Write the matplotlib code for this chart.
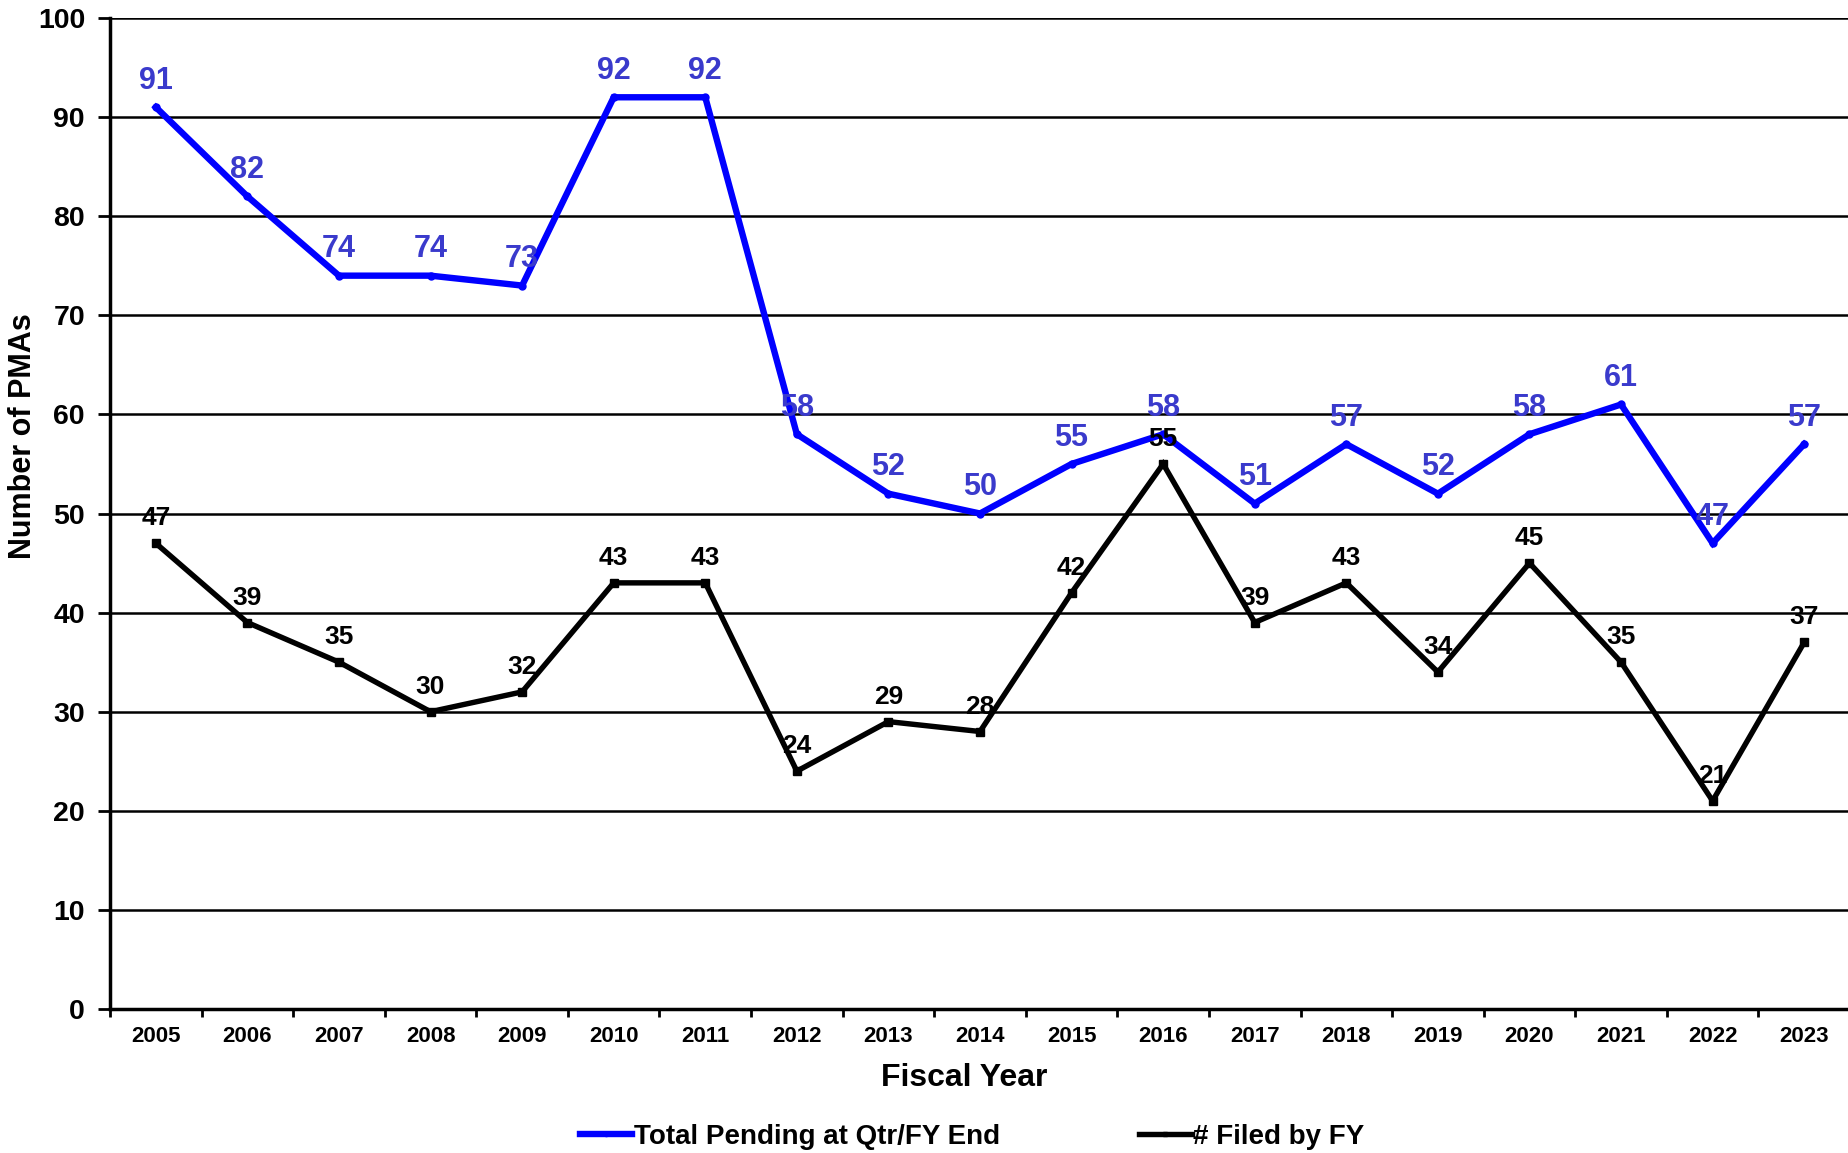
import matplotlib
matplotlib.use("Agg")
import matplotlib.pyplot as plt
from matplotlib.lines import Line2D

years = ["2005", "2006", "2007", "2008", "2009", "2010", "2011", "2012", "2013", "2014",
         "2015", "2016", "2017", "2018", "2019", "2020", "2021", "2022", "2023"]
total_pending = [91, 82, 74, 74, 73, 92, 92, 58, 52, 50, 55, 58, 51, 57, 52, 58, 61, 47, 57]
filed_by_fy = [47, 39, 35, 30, 32, 43, 43, 24, 29, 28, 42, 55, 39, 43, 34, 45, 35, 21, 37]
y_ticks = [0, 10, 20, 30, 40, 50, 60, 70, 80, 90, 100]

plt.rcParams["font.family"] = ["Liberation Sans", "DejaVu Sans"]
plt.rcParams["font.weight"] = "bold"

W, H = 1848, 1153
fig = plt.figure(figsize=(W / 100, H / 100), dpi=100)
left_px, right_px, top_px, bottom_px = 110, 1850, 18, 1009
ax = fig.add_axes([left_px / W, 1 - bottom_px / H,
                   (right_px - left_px) / W, (bottom_px - top_px) / H])

x = list(range(len(years)))
blue_line = "#0000FF"
blue_text = "#3A3ACC"

ax.plot(x, total_pending, color=blue_line, lw=4.6, marker="o", ms=5,
        solid_joinstyle="miter", zorder=3)
ax.plot(x, filed_by_fy, color="black", lw=3.9, marker="s", ms=5.5,
        solid_joinstyle="miter", zorder=3)

for xi, v in zip(x, total_pending):
    ax.annotate(str(v), (xi, v), xytext=(0, 19), textcoords="offset points",
                ha="center", va="center", fontsize=22, fontweight="bold",
                color=blue_text, zorder=4)
for xi, v in zip(x, filed_by_fy):
    ax.annotate(str(v), (xi, v), xytext=(0, 18), textcoords="offset points",
                ha="center", va="center", fontsize=19, fontweight="bold",
                color="black", zorder=4)

ax.set_xlim(-0.5, len(years) - 0.5)
ax.set_ylim(0, 100)
ax.set_yticks(y_ticks)
ax.set_yticklabels([str(t) for t in y_ticks], fontsize=20.5, fontweight="bold")
ax.tick_params(axis="y", length=9, width=2, pad=9)

# boundary ticks between categories, labels centred on each category
ax.set_xticks([i + 0.5 for i in range(-1, len(years))])
ax.set_xticklabels([])
ax.set_xticks(x, minor=True)
ax.set_xticklabels(years, minor=True, fontsize=16, fontweight="bold")
ax.tick_params(axis="x", which="major", length=6, width=2, direction="out")
ax.tick_params(axis="x", which="minor", length=0, pad=12)

ax.grid(axis="y", color="black", lw=1.8, zorder=0)
ax.set_axisbelow(True)
for side in ("top", "right"):
    ax.spines[side].set_visible(False)
for side in ("left", "bottom"):
    ax.spines[side].set_linewidth(2.5)

fig.text(23 / W, 1 - 436 / H, "Number of PMAs", rotation=90, ha="center", va="center",
         fontsize=22, fontweight="bold")
fig.text(964 / W, 1 - 1078 / H, "Fiscal Year", ha="center", va="center",
         fontsize=23, fontweight="bold")

handles = [
    Line2D([], [], color=blue_line, lw=4.6, marker="o", ms=3),
    Line2D([], [], color="black", lw=3.9, marker="s", ms=3),
]
labels = ["Total Pending at Qtr/FY End", "# Filed by FY"]
fig.legend(handles, labels, loc="center", bbox_to_anchor=(972 / W, 1 - 1137 / H),
           ncol=2, frameon=False, handlelength=1.9, handletextpad=0.05,
           columnspacing=5.0, prop={"weight": "bold", "size": 20})

fig.savefig("out.png", dpi=100)
